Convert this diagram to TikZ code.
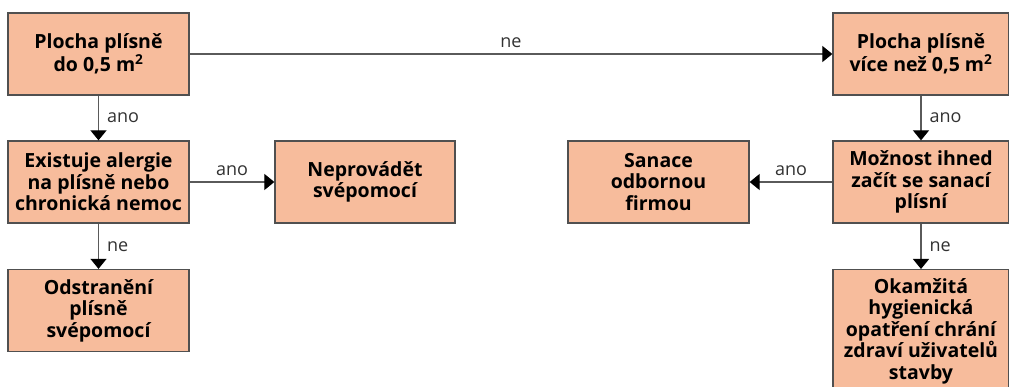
\documentclass[tikz,border=0pt]{standalone}
\usepackage{fontspec}
\setmainfont{Open Sans}
\usetikzlibrary{arrows.meta}
\definecolor{boxfill}{RGB}{247,188,156}
\definecolor{boxline}{RGB}{80,80,80}
\definecolor{conn}{RGB}{90,90,90}
\definecolor{lbl}{RGB}{50,50,50}
\begin{document}
\begin{tikzpicture}[x=1pt,y=-1pt,
  box/.style={draw=boxline, line width=1.3pt, fill=boxfill, inner sep=0pt,
    minimum width=181pt, minimum height=82pt, align=center,
    font=\fontsize{19.5}{21.5}\selectfont\bfseries},
  rbox/.style={box, minimum width=176pt},
  arr/.style={draw=conn, line width=1.2pt, -{Triangle[length=10pt,width=16pt,fill=black,color=black]}},
  lab/.style={font=\fontsize{18}{20}\selectfont, text=lbl, inner sep=0pt}]
\useasboundingbox (0,0) rectangle (1009,387);
\clip (0,0) rectangle (1009,387);
\node[box] (a) at (98.5,54) {Plocha plísně\\do 0,5 m\textsuperscript{2}};
\node[box] (b) at (98.5,182) {Existuje alergie\\na plísně nebo\\chronická nemoc};
\node[box, minimum width=180pt] (c) at (365,182) {Neprovádět\\svépomocí};
\node[box] (d) at (98.5,310.5) {Odstranění\\plísně\\svépomocí};
\node[rbox] (e) at (921,54) {Plocha plísně\\více než 0,5 m\textsuperscript{2}};
\node[rbox] (f) at (921,182) {Možnost ihned\\začít se sanací\\plísní};
\node[box] (g) at (658.5,182) {Sanace\\odbornou\\firmou};
\node[rbox, minimum height=130pt, anchor=north] (h) at (921,269) {};
\node[font=\fontsize{19.5}{21.5}\selectfont\bfseries, align=center, anchor=north, inner sep=0pt] (ht) at (921,278)
  {Okamžitá\\hygienická\\opatření chrání\\zdraví uživatelů\\stavby};
\draw[arr] (a.east) -- node[lab, above=6pt] {ne} (e.west);
\draw[arr] (a.south) -- node[lab, right=8pt] {ano} (b.north);
\draw[arr] (b.east) -- node[lab, above=6pt] {ano} (c.west);
\draw[arr] (b.south) -- node[lab, right=8pt] {ne} (d.north);
\draw[arr] (e.south) -- node[lab, right=8pt] {ano} (f.north);
\draw[arr] (f.west) -- node[lab, above=6pt] {ano} (g.east);
\draw[arr] (f.south) -- node[lab, right=8pt] {ne} (h.north);
\end{tikzpicture}
\end{document}
